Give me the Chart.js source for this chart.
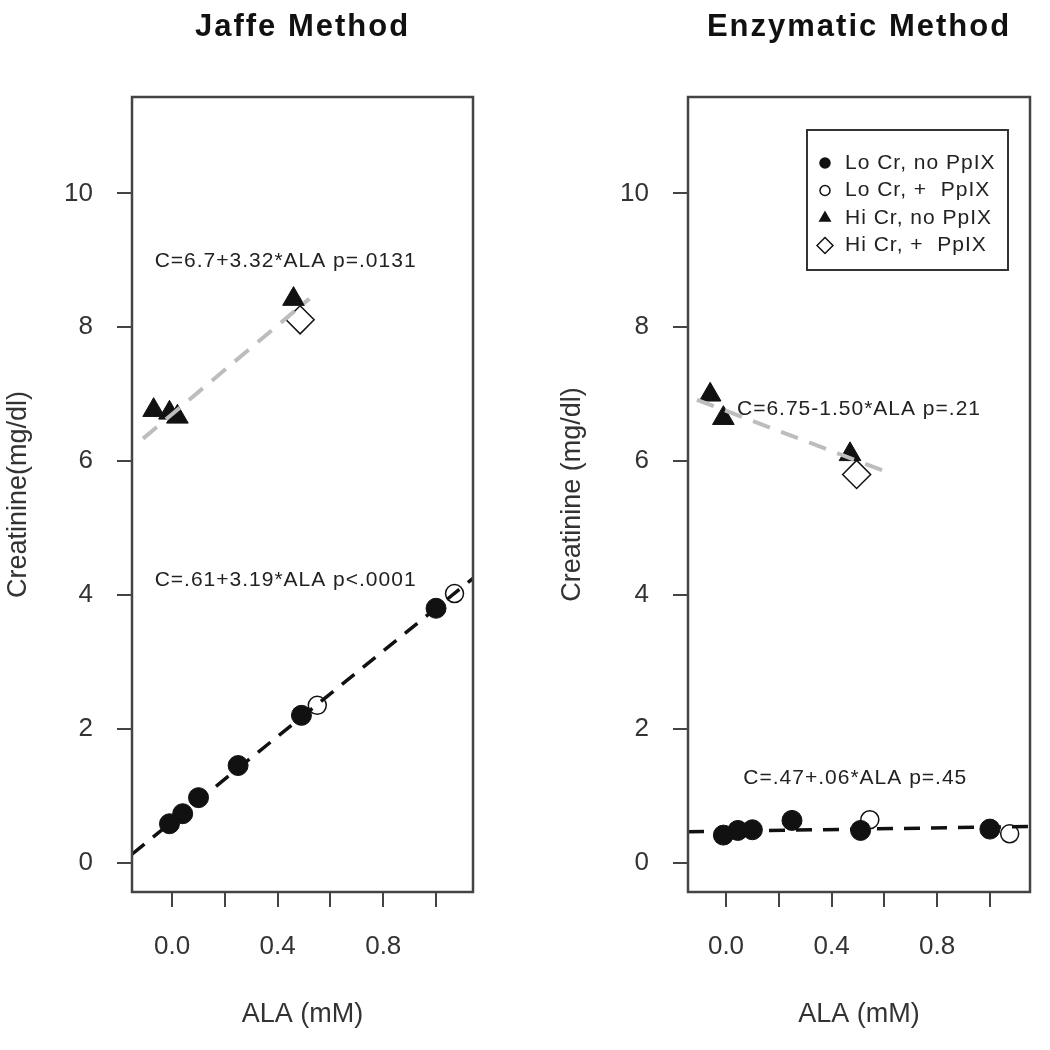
<!DOCTYPE html>
<html>
<head>
<meta charset="utf-8">
<script src="https://cdn.jsdelivr.net/npm/chart.js@4.4.1/dist/chart.umd.min.js"></script>
<style>
  html, body { margin: 0; padding: 0; background: #fff; }
  #wrap { position: relative; width: 1050px; height: 1050px; }
  canvas { position: absolute; top: 0; }
  #jaffe { left: 0; }
  #enzym { left: 525px; }
</style>
</head>
<body>
<div id="wrap">
  <canvas id="jaffe" width="525" height="1050"></canvas>
  <canvas id="enzym" width="525" height="1050"></canvas>
</div>
<script>
// Values (ALA in mM, creatinine in mg/dl).
const jaffeLoNoX = [-0.01, 0.04, 0.1, 0.25, 0.49, 1.0];
const jaffeLoNoY = [0.58, 0.73, 0.97, 1.45, 2.2, 3.8];
const jaffeLoPlusX = [0.55, 1.07];
const jaffeLoPlusY = [2.35, 4.02];
const jaffeHiNoX = [-0.07, -0.01, 0.02, 0.46];
const jaffeHiNoY = [6.76, 6.72, 6.66, 8.42];
const jaffeHiPlusX = [0.485];
const jaffeHiPlusY = [8.11];

const enzLoNoX = [-0.01, 0.045, 0.1, 0.25, 0.51, 1.0];
const enzLoNoY = [0.41, 0.48, 0.49, 0.63, 0.48, 0.5];
const enzLoPlusX = [0.545, 1.075];
const enzLoPlusY = [0.64, 0.43];
const enzHiNoX = [-0.06, -0.01, 0.47];
const enzHiNoY = [6.99, 6.64, 6.1];
const enzHiPlusX = [0.495];
const enzHiPlusY = [5.8];

// Regression fits: intercept, slope and the x range each line covers.
const jaffeLoFit = [0.61, 3.19];
const jaffeHiFit = [6.7, 3.32];
const jaffeHiFitRange = [-0.11, 0.52];
const enzLoFit = [0.47, 0.06];
const enzHiFit = [6.75, -1.50];
const enzHiFitRange = [-0.11, 0.61];

const jaffeNotes = ['C=6.7+3.32*ALA p=.0131', 'C=.61+3.19*ALA p<.0001'];
const enzNotes = ['C=6.75-1.50*ALA p=.21', 'C=.47+.06*ALA p=.45'];
const legendLabels = ['Lo Cr, no PpIX', 'Lo Cr, +  PpIX', 'Hi Cr, no PpIX', 'Hi Cr, +  PpIX'];

const F = '"Liberation Sans", Arial, Helvetica, sans-serif';

function pts(xs, ys) {
  return xs.map((x, i) => ({x, y: ys[i]}));
}

function fitLine(fit, x0, x1) {
  return [{x: x0, y: fit[0] + fit[1] * x0}, {x: x1, y: fit[0] + fit[1] * x1}];
}

const framePlugin = {
  id: 'frame',
  afterDraw(chart, args, opts) {
    const {ctx, chartArea: a, scales: {x, y}} = chart;
    ctx.save();
    ctx.strokeStyle = '#444';
    ctx.lineWidth = 2.5;
    ctx.strokeRect(a.left, a.top, a.right - a.left, a.bottom - a.top);

    ctx.fillStyle = '#111';
    ctx.textAlign = 'center';
    ctx.textBaseline = 'middle';
    ctx.font = 'bold 31px ' + F;
    ctx.letterSpacing = '2px';
    ctx.fillText(opts.title, (a.left + a.right) / 2, 27);

    ctx.font = '21px ' + F;
    ctx.letterSpacing = '1px';
    ctx.fillStyle = '#222';
    opts.notes.forEach(n => {
      ctx.fillText(n.text, x.getPixelForValue(n.x), y.getPixelForValue(n.y));
    });

    if (opts.legend) {
      const bx = a.right - 223, by = a.top + 33, bw = 201, bh = 140;
      ctx.strokeStyle = '#333';
      ctx.lineWidth = 2;
      ctx.strokeRect(bx, by, bw, bh);
      const styles = [
        {pointStyle: 'circle', radius: 5, fill: '#111'},
        {pointStyle: 'circle', radius: 5, fill: '#fff'},
        {pointStyle: 'triangle', radius: 6, fill: '#111'},
        {pointStyle: 'rectRot', radius: 8, fill: '#fff'},
      ];
      ctx.textAlign = 'left';
      legendLabels.forEach((label, i) => {
        const ly = by + 33 + i * 27.5;
        const s = styles[i];
        ctx.fillStyle = s.fill;
        ctx.strokeStyle = '#111';
        ctx.lineWidth = 1.5;
        Chart.helpers.drawPoint(ctx, {pointStyle: s.pointStyle, radius: s.radius, rotation: 0, borderWidth: 1.5}, bx + 18, ly);
        ctx.fillStyle = '#222';
        ctx.fillText(label, bx + 38, ly);
      });
    }
    ctx.restore();
  }
};

function makePanel(id, p) {
  const datasets = [
    {type: 'line', data: fitLine(p.loFit, p.xMin, p.xMax), borderColor: '#111', borderWidth: 3.5,
      borderDash: [16, 11], pointRadius: 0, fill: false},
    {type: 'line', data: fitLine(p.hiFit, p.hiRange[0], p.hiRange[1]), borderColor: '#bdbdbd', borderWidth: 4,
      borderDash: [18, 12], pointRadius: 0, fill: false},
    {data: pts(p.loNoX, p.loNoY), pointStyle: 'circle', pointRadius: 10, backgroundColor: '#111', borderColor: '#111', borderWidth: 1},
    {data: pts(p.loPlusX, p.loPlusY), pointStyle: 'circle', pointRadius: 9, backgroundColor: '#fff', borderColor: '#111', borderWidth: 1.5},
    {data: pts(p.hiNoX, p.hiNoY), pointStyle: 'triangle', pointRadius: 12.5, backgroundColor: '#111', borderColor: '#111', borderWidth: 1},
    {data: pts(p.hiPlusX, p.hiPlusY), pointStyle: 'rectRot', pointRadius: 14, backgroundColor: '#fff', borderColor: '#111', borderWidth: 1.5},
  ];
  return new Chart(document.getElementById(id), {
    type: 'scatter',
    data: {datasets},
    options: {
      responsive: false,
      animation: false,
      devicePixelRatio: 1,
      layout: {padding: {left: 0, right: p.padRight, top: 97, bottom: 0}},
      plugins: {
        legend: {display: false},
        tooltip: {enabled: false},
        frame: {title: p.title, notes: p.notes, legend: p.legend},
      },
      scales: {
        x: {
          type: 'linear',
          min: p.xMin,
          max: p.xMax,
          border: {display: false},
          grid: {drawOnChartArea: false, drawTicks: true, tickLength: 15, color: '#444', lineWidth: 2},
          ticks: {
            stepSize: 0.2, includeBounds: false, padding: 24, color: '#333', maxRotation: 0, autoSkip: false,
            font: {family: F, size: 26},
            callback: v => (Math.round(v * 10) % 4 === 0 ? v.toFixed(1) : ''),
          },
          title: {display: true, text: 'ALA (mM)', color: '#333', font: {family: F, size: 27}, padding: {top: 0, bottom: 19}},
          afterFit: s => { s.height = 158; },
        },
        y: {
          type: 'linear',
          min: -0.44,
          max: 11.44,
          border: {display: false},
          grid: {drawOnChartArea: false, drawTicks: true, tickLength: 15, color: '#444', lineWidth: 2},
          ticks: {
            stepSize: 2, includeBounds: false, padding: 24, color: '#333', autoSkip: false,
            font: {family: F, size: 26},
            callback: v => String(v),
          },
          title: {display: true, text: p.yTitle, color: '#333', font: {family: F, size: 27}, padding: {top: p.yTitlePad, bottom: 0}},
          afterFit: s => { s.width = p.leftW; },
        },
      },
    },
    plugins: [framePlugin],
  });
}

makePanel('jaffe', {
  title: 'Jaffe Method',
  yTitle: 'Creatinine(mg/dl)',
  yTitlePad: 2,
  leftW: 132,
  padRight: 52,
  xMin: -0.152,
  xMax: 1.14,
  loFit: jaffeLoFit,
  hiFit: jaffeHiFit,
  hiRange: jaffeHiFitRange,
  loNoX: jaffeLoNoX, loNoY: jaffeLoNoY,
  loPlusX: jaffeLoPlusX, loPlusY: jaffeLoPlusY,
  hiNoX: jaffeHiNoX, hiNoY: jaffeHiNoY,
  hiPlusX: jaffeHiPlusX, hiPlusY: jaffeHiPlusY,
  notes: [{text: jaffeNotes[0], x: 0.43, y: 8.98}, {text: jaffeNotes[1], x: 0.43, y: 4.22}],
  legend: false,
});

makePanel('enzym', {
  title: 'Enzymatic Method',
  yTitle: 'Creatinine (mg/dl)',
  yTitlePad: 31,
  leftW: 163,
  padRight: 20,
  xMin: -0.144,
  xMax: 1.152,
  loFit: enzLoFit,
  hiFit: enzHiFit,
  hiRange: enzHiFitRange,
  loNoX: enzLoNoX, loNoY: enzLoNoY,
  loPlusX: enzLoPlusX, loPlusY: enzLoPlusY,
  hiNoX: enzHiNoX, hiNoY: enzHiNoY,
  hiPlusX: enzHiPlusX, hiPlusY: enzHiPlusY,
  notes: [{text: enzNotes[0], x: 0.504, y: 6.77}, {text: enzNotes[1], x: 0.49, y: 1.26}],
  legend: true,
});
</script>
</body>
</html>
